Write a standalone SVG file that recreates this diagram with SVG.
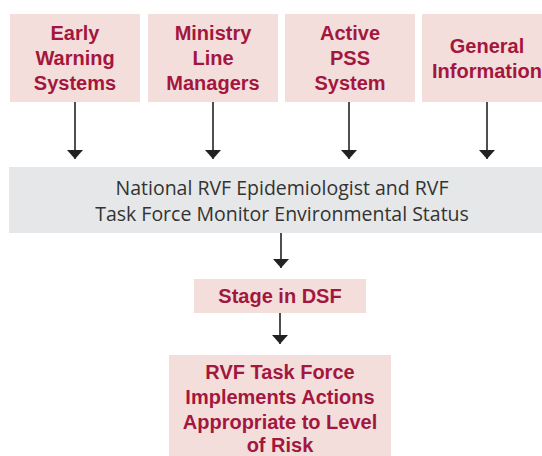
<svg xmlns="http://www.w3.org/2000/svg" width="542" height="456" viewBox="0 0 542 456">
<defs>
<style>
.pink{fill:#f3dedb}
.gray{fill:#e6e7e8}
.rt{font-family:"Liberation Sans",Arial,sans-serif;font-weight:bold;font-size:20px;fill:#a3173f;text-anchor:middle}
.gt{font-family:"Open Sans","Liberation Sans",sans-serif;font-size:19.5px;fill:#333333;text-anchor:middle}
.conn{stroke:#222;stroke-width:1.6;fill:none}
</style>
<marker id="ah" markerWidth="10" markerHeight="16" refX="9" refY="8" orient="auto" markerUnits="userSpaceOnUse">
<path d="M0,0 L9,8 L0,16 Z" fill="#222"/>
</marker>
</defs>
<rect width="542" height="456" fill="#ffffff"/>
<g id="n1"><rect class="pink" x="10" y="14" width="130" height="88"/>
<text class="rt" x="75" y="40">Early</text><text class="rt" x="75" y="65">Warning</text><text class="rt" x="75" y="90">Systems</text></g>
<g id="n2"><rect class="pink" x="148" y="14" width="130" height="88"/>
<text class="rt" x="213" y="40">Ministry</text><text class="rt" x="213" y="65">Line</text><text class="rt" x="213" y="90">Managers</text></g>
<g id="n3"><rect class="pink" x="285" y="14" width="130" height="88"/>
<text class="rt" x="350" y="40">Active</text><text class="rt" x="350" y="65">PSS</text><text class="rt" x="350" y="90">System</text></g>
<g id="n4"><rect class="pink" x="422" y="14" width="130" height="88"/>
<text class="rt" x="487" y="53">General</text><text class="rt" x="487" y="78">Information</text></g>
<g id="n5"><rect class="gray" x="9" y="167" width="545" height="66"/>
<text class="gt" x="282" y="195">National RVF Epidemiologist and RVF</text>
<text class="gt" x="282" y="221">Task Force Monitor Environmental Status</text></g>
<g id="n6"><rect class="pink" x="194" y="279" width="172" height="34"/>
<text class="rt" x="280" y="303">Stage in DSF</text></g>
<g id="n7"><rect class="pink" x="169" y="355" width="222" height="110"/>
<text class="rt" x="280" y="379">RVF Task Force</text><text class="rt" x="280" y="404">Implements Actions</text><text class="rt" x="280" y="429">Appropriate to Level</text><text class="rt" x="280" y="452">of Risk</text></g>
<g id="connectors">
<line class="conn" x1="75" y1="102" x2="75" y2="159" marker-end="url(#ah)"/>
<line class="conn" x1="213" y1="102" x2="213" y2="159" marker-end="url(#ah)"/>
<line class="conn" x1="349" y1="102" x2="349" y2="159" marker-end="url(#ah)"/>
<line class="conn" x1="487" y1="102" x2="487" y2="159" marker-end="url(#ah)"/>
<line class="conn" x1="281" y1="233" x2="281" y2="268" marker-end="url(#ah)"/>
<line class="conn" x1="280" y1="313" x2="280" y2="344" marker-end="url(#ah)"/>
</g>
</svg>
